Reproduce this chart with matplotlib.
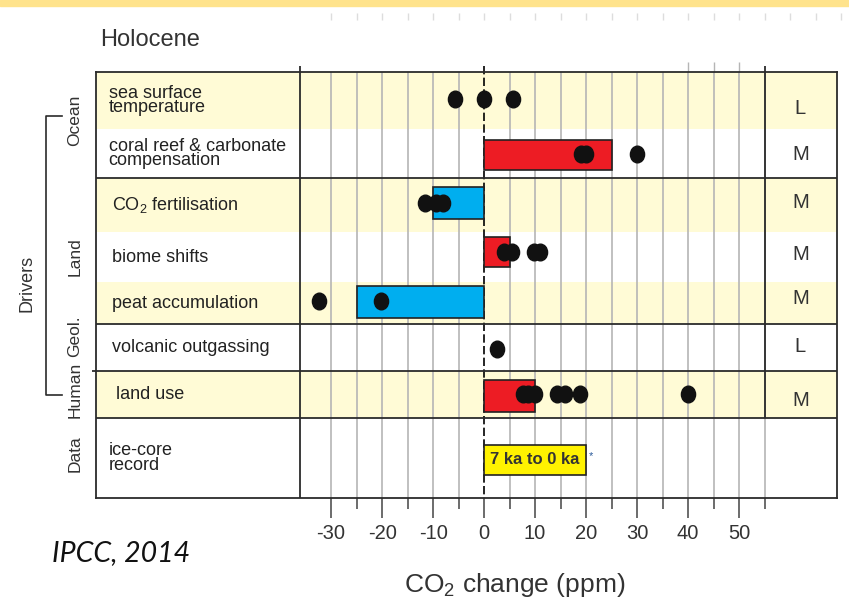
import numpy as np
import matplotlib
matplotlib.use("Agg")
import matplotlib.pyplot as plt
from matplotlib.markers import MarkerStyle
from matplotlib.transforms import Affine2D
from matplotlib.patches import Rectangle

SANS = ['Liberation Sans', 'DejaVu Sans']
plt.rcParams['font.family'] = SANS
plt.rcParams['mathtext.fontset'] = 'custom'
plt.rcParams['mathtext.rm'] = 'Liberation Sans'
plt.rcParams['mathtext.it'] = 'Liberation Sans:italic'

## Data
drivers = ['sea surface\ntemperature', 'coral reef & carbonate\ncompensation',
           'CO$_2$ fertilisation', 'biome shifts', 'peat accumulation',
           'volcanic outgassing', 'land use', 'ice-core\nrecord']
bar_ends = [np.nan, 25, -10, 5, -25, np.nan, 10, 20]
dots = [[-5.7, 0, 5.7],
        [19, 20, 30],
        [-11.5, -9.5, -8],
        [4, 5.5, 9.7, 11],
        [-32.4, -20.2],
        [2.5],
        [7.6, 8.6, 10, 14.3, 15.9, 18.8, 40],
        []]
confidence = ['L', 'M', 'M', 'M', 'M', 'L', 'M', '']
groups = ['Ocean', 'Land', 'Geol.', 'Human', 'Data']
major_ticks = [-30, -20, -10, 0, 10, 20, 30, 40, 50]
major_labels = ['-30', '-20', '-10', '0', '10', '20', '30', '40', '50']
minor_ticks = [-25, -15, -5, 5, 15, 25, 35, 45, 55]
grid_x = np.arange(-30, 56, 5)

## Layout (y in pixel rows of the original figure)
W, H = 849, 604
x0, x1 = -76.1, 69.2           # box left/right in ppm units
label_div, conf_div = -36.1, 55
row_edges = [72, 129, 178, 232, 282, 324, 371, 418, 498]
shaded = [True, False, True, False, True, False, True, False]
bar_span = [None, (140, 170), (187, 219), (237, 267), (286, 318), None, (380, 412), (445, 475)]
bar_colors = [None, '#ed1c24', '#00aeef', '#ed1c24', '#00aeef', None, '#ed1c24', '#fff200']
dot_y = [99, 154, 203, 252, 301, 349, 394, None]
conf_y = [108, 155, 203, 255, 298, 347, 401, None]
label_x = [-73.6, -73.6, -73.0, -73.0, -73.0, -73.0, -72.2, -73.6]
group_y = [120, 257, 336, 390, 454]
heavy_lines = [178, 324, 371, 418]
cream = '#fffbd6'
dark = '#2b2b2b'

fig = plt.figure(figsize=(W / 100, H / 100), dpi=100)
fig.patches.append(Rectangle((0, 1 - 6 / H), 1, 6 / H, transform=fig.transFigure,
                             color='#ffe38c', zorder=0))
ax = fig.add_axes([96 / W, 1 - 498 / H, (837 - 96) / W, (498 - 72) / H])
ax.set_xlim(x0, x1)
ax.set_ylim(498, 72)

# row shading
for i, s in enumerate(shaded):
    if s:
        ax.axhspan(row_edges[i], row_edges[i + 1], color=cream, lw=0, zorder=0)

# grid
ax.vlines([g for g in grid_x if g != 0], 72, 498, color='#b5b5b5', lw=1.2, zorder=1)
ax.vlines([40, 45, 50], 62, 72, color='#b5b5b5', lw=1.0, zorder=1, clip_on=False)
ax.vlines(np.arange(-30, 71, 5), 13, 20, color='#dddddd', lw=1.0, zorder=1, clip_on=False)
ax.vlines(0, 66, 498, color='k', lw=1.2, linestyles=(0, (5, 2)), zorder=2, clip_on=False)

# frame lines
ax.hlines(heavy_lines, x0, x1, color=dark, lw=1.3, zorder=5)
ax.hlines(371, x0 - 0.7, x0, color=dark, lw=1.3, clip_on=False)
ax.vlines(label_div, 66, 498, color=dark, lw=1.3, zorder=5, clip_on=False)
ax.vlines(conf_div, 66, 418, color=dark, lw=1.3, zorder=5, clip_on=False)
for sp in ax.spines.values():
    sp.set_color(dark)
    sp.set_linewidth(1.3)

# bars
for i, end in enumerate(bar_ends):
    if np.isnan(end):
        continue
    lo, hi = bar_span[i]
    ax.barh((lo + hi) / 2, end, height=hi - lo, left=0, color=bar_colors[i],
            edgecolor='#222222', lw=1.2, zorder=3)

# model estimates
dot_marker = MarkerStyle('o', transform=Affine2D().scale(0.85, 1.0))
for i, xs in enumerate(dots):
    if xs:
        ax.plot(xs, [dot_y[i]] * len(xs), ls='none', marker=dot_marker, ms=12,
                color='#111111', zorder=4)

# text in rows
for i, lab in enumerate(drivers):
    yc = (row_edges[i] + row_edges[i + 1]) / 2
    ax.text(label_x[i], yc, lab, ha='left', va='center', fontsize=13,
            linespacing=0.8, color='#222222')
    if confidence[i]:
        ax.text(62, conf_y[i], confidence[i], ha='center', va='center', fontsize=14.5,
                color='#333333')

ax.text(1.2, 460, '7 ka to 0 ka', ha='left', va='center', fontsize=12,
        fontweight='bold', color='#333333', zorder=6)
ax.text(20.6, 456, '*', ha='left', va='center', fontsize=8, color='#2a5a9a', zorder=6)

# group labels and bracket
for g, yc in zip(groups, group_y):
    ax.text(-80.2, yc, g, rotation=90, ha='center', va='center', fontsize=12.5,
            color='#333333', clip_on=False)
ax.text(-89.6, 283, 'Drivers', rotation=90, ha='center', va='center', fontsize=13,
        color='#333333', clip_on=False)
ax.plot([-82.7, -85.9, -85.9, -82.7], [116, 116, 395, 395], color=dark, lw=1.2,
        clip_on=False)

# axis ticks
ax.set_yticks([])
ax.set_xticks(major_ticks)
ax.set_xticklabels(major_labels)
ax.set_xticks(minor_ticks, minor=True)
ax.tick_params(axis='x', which='major', length=14.4, width=1.1, color='#444444',
               direction='out', pad=4, labelsize=14.5, labelcolor='#333333')
ax.tick_params(axis='x', which='minor', length=8, width=1.1, color='#444444',
               direction='out')

fig.text(100 / W, 1 - 40 / H, 'Holocene', ha='left', va='center', fontsize=17,
         color='#333333')
fig.text(515 / W, 1 - 585 / H, r'CO$_2$ change (ppm)', ha='center', va='center',
         fontsize=19, color='#333333')
fig.text(52 / W, 1 - 553 / H, 'IPCC, 2014', ha='left', va='center', fontsize=20.5,
         style='italic', family=['Lato', 'Open Sans', 'DejaVu Sans'], color='#111111')

fig.savefig('out.png', dpi=100)
